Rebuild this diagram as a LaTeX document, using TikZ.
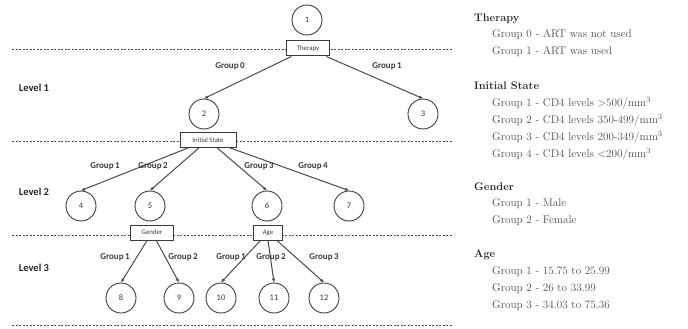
\documentclass[tikz,border=0pt]{standalone}
\usepackage{fontspec}
\newfontfamily\carl{Carlito}
\usetikzlibrary{arrows.meta}
\definecolor{ink}{HTML}{3A3A3A}
\definecolor{lgray}{HTML}{4A4A4A}
\definecolor{legtxt}{HTML}{4D4D4D}
\tikzset{
  st/.style={circle,draw=ink,line width=0.9pt,minimum size=30pt,inner sep=0pt,font=\carl\fontsize{8.5}{9}\selectfont,text=ink},
  varbox/.style={rectangle,draw=ink,line width=1pt,fill=white,minimum height=15pt,inner sep=0pt,font=\carl\fontsize{6.8}{7}\selectfont,text=ink},
  edge/.style={draw=lgray,line width=1pt,-{Latex[length=4pt,width=3.5pt]}},
  glab/.style={font=\carl\bfseries\fontsize{9}{10}\selectfont,text=ink},
  lvl/.style={font=\carl\bfseries\fontsize{10.5}{11}\selectfont,text=black!85},
  sep/.style={draw=lgray,line width=0.8pt,dash pattern=on 2pt off 1.5pt},
  lhead/.style={anchor=west,font=\bfseries\fontsize{11}{12}\selectfont,text=black!85,inner sep=0pt},
  litem/.style={anchor=west,font=\fontsize{11.2}{12}\selectfont,text=legtxt,inner sep=0pt}
}
\begin{document}
\begin{tikzpicture}[x=1pt,y=-1pt]
\useasboundingbox (0,0) rectangle (688,329);
% separators
\coordinate (s1a) at (12,49); \coordinate (s1b) at (453,49);
\coordinate (s2a) at (12,141); \coordinate (s2b) at (453,141);
\coordinate (s3a) at (12,235); \coordinate (s3b) at (453,235);
\coordinate (s4a) at (12,325); \coordinate (s4b) at (453,325);
\draw[sep] (s1a) -- (s1b);
\draw[sep] (s2a) -- (s2b);
\draw[sep] (s3a) -- (s3b);
\draw[sep] (s4a) -- (s4b);
% level labels
\node[lvl] (L1) at (34,88) {Level 1};
\node[lvl] (L2) at (34,192) {Level 2};
\node[lvl] (L3) at (34,268) {Level 3};
% states
\node[st] (n1) at (307,20) {1};
\node[st] (n2) at (204,114) {2};
\node[st] (n3) at (423,114) {3};
\node[st] (n4) at (81,206) {4};
\node[st] (n5) at (150,206) {5};
\node[st] (n6) at (267,206) {6};
\node[st] (n7) at (349,206) {7};
\node[st] (n8) at (121,298) {8};
\node[st] (n9) at (179,298) {9};
\node[st] (n10) at (221,298) {10};
\node[st] (n11) at (274,298) {11};
\node[st] (n12) at (324,298) {12};
% variable boxes
\node[varbox,minimum width=43pt] (ther) at (308,48.5) {Therapy};
\node[varbox,minimum width=56pt] (init) at (208,140) {Initial State};
\node[varbox,minimum width=43pt] (gend) at (152,232.5) {Gender};
\node[varbox,minimum width=29pt] (age) at (268,232.5) {Age};
% edges
\draw[edge] (ther) -- (n2.north);
\draw[edge] (ther) -- (n3.north);
\draw[edge] (init) -- (n4.north);
\draw[edge] (init) -- (n5.north);
\draw[edge] (init) -- (n6.north);
\draw[edge] (init) -- (n7.north);
\draw[edge] (gend) -- (n8.north);
\draw[edge] (gend) -- (n9.north);
\draw[edge] (age) -- (n10.north);
\draw[edge] (age.south) -- (n11.north);
\draw[edge] (age) -- (n12.north);
% group labels
\node[glab] (g0) at (230,66) {Group\,0};
\node[glab] (g1) at (387,66) {Group\,1};
\node[glab] (i1) at (105,166) {Group\,1};
\node[glab] (i2) at (153,166) {Group\,2};
\node[glab] (i3) at (259,166) {Group\,3};
\node[glab] (i4) at (313,166) {Group\,4};
\node[glab] (a1) at (115,257) {Group\,1};
\node[glab] (a2) at (183,257) {Group\,2};
\node[glab] (b1) at (231,257) {Group\,1};
\node[glab] (b2) at (271,257) {Group\,2};
\node[glab] (b3) at (324,257) {Group\,3};
% legend
\node[lhead] (hT) at (474,19) {Therapy};
\node[litem] (t0) at (492,35) {Group 0 - ART was not used};
\node[litem] (t1) at (492,52) {Group 1 - ART was used};
\node[lhead] (hI) at (474,86) {Initial State};
\node[litem] (c1) at (492,103) {Group 1 - CD4 levels $>$500/mm$^3$};
\node[litem] (c2) at (492,120) {Group 2 - CD4 levels 350-499/mm$^3$};
\node[litem] (c3) at (492,137) {Group 3 - CD4 levels 200-349/mm$^3$};
\node[litem] (c4) at (492,154) {Group 4 - CD4 levels $<$200/mm$^3$};
\node[lhead] (hG) at (474,187) {Gender};
\node[litem] (m1) at (492,204) {Group 1 - Male};
\node[litem] (m2) at (492,221) {Group 2 - Female};
\node[lhead] (hA) at (474,255) {Age};
\node[litem] (y1) at (492,272) {Group 1 - 15.75 to 25.99};
\node[litem] (y2) at (492,289) {Group 2 - 26 to 33.99};
\node[litem] (y3) at (492,306) {Group 3 - 34.03 to 75.36};
\end{tikzpicture}
\end{document}
